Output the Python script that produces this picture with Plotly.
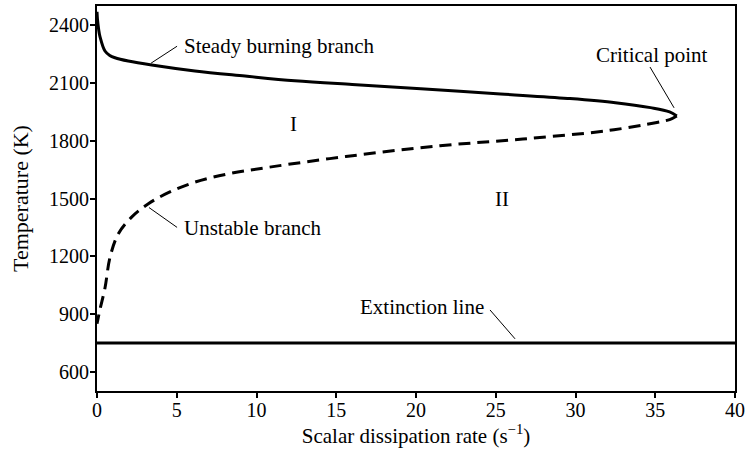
import plotly.graph_objects as go

# steady burning branch (upper, solid)
upper_x = [0, 0.03, 0.1, 0.19, 0.5, 0.8, 1.13, 1.96, 3.43, 6.14, 9.28, 12.4, 16, 20.3, 25.3, 29.5, 32.5, 34.7, 35.9, 36.35]
upper_t = [2470, 2430, 2380, 2340, 2266, 2243, 2231, 2214, 2193, 2162, 2136, 2112, 2092, 2070, 2043, 2020, 1998, 1972, 1950, 1929]

# unstable branch (lower, dashed)
lower_x = [36.35, 35.9, 35.1, 31.96, 26.7, 21.5, 15.6, 10.74, 8.23, 6.14, 4.47, 3.22, 2.17, 1.34, 0.82, 0.5, 0.19, 0]
lower_t = [1929, 1910, 1895, 1852, 1809, 1774, 1718, 1662, 1628, 1585, 1530, 1473, 1403, 1317, 1196, 1035, 925, 850]

# extinction line
ext_x = [0, 40]
ext_t = [750, 750]

x_ticks = [0, 5, 10, 15, 20, 25, 30, 35, 40]
y_ticks = [600, 900, 1200, 1500, 1800, 2100, 2400]

font = "Liberation Serif, Times New Roman, serif"

fig = go.Figure()
fig.add_trace(go.Scatter(x=upper_x, y=upper_t, mode="lines",
                         line=dict(color="black", width=3, shape="spline", smoothing=1)))
fig.add_trace(go.Scatter(x=lower_x, y=lower_t, mode="lines",
                         line=dict(color="black", width=3, dash="12px,7px", shape="spline", smoothing=1)))
fig.add_trace(go.Scatter(x=ext_x, y=ext_t, mode="lines",
                         line=dict(color="black", width=3)))

# leader lines for the labels
leaders = [
    (3.39, 2203, 5.02, 2291),
    (34.67, 2183, 36.18, 1971),
    (3.26, 1453, 5.02, 1350),
    (24.64, 921, 26.21, 771),
]
for x0, y0, x1, y1 in leaders:
    fig.add_shape(type="line", x0=x0, y0=y0, x1=x1, y1=y1,
                  line=dict(color="black", width=1))

labels = [
    ("Steady burning branch", 5.3, 2291, "left"),
    ("Critical point", 34.8, 2245, "center"),
    ("Unstable branch", 5.3, 1345, "left"),
    ("Extinction line", 20.4, 936, "center"),
    ("I", 12.35, 1888, "center"),
    ("II", 25.4, 1500, "center"),
]
for text, x, y, anchor in labels:
    fig.add_annotation(x=x, y=y, text=text, showarrow=False, xanchor=anchor,
                       yanchor="middle", font=dict(size=21, color="black", family=font))

fig.update_layout(
    width=749, height=457,
    margin=dict(l=97, r=14, t=4, b=66),
    paper_bgcolor="white", plot_bgcolor="white",
    showlegend=False,
    font=dict(family=font, size=20, color="black"),
)
fig.update_xaxes(range=[0, 40], tickvals=x_ticks, showgrid=False, zeroline=False,
                 showline=True, linecolor="black", linewidth=2, mirror=True,
                 ticks="outside", ticklen=5, tickwidth=2, tickcolor="black",
                 ticklabelstandoff=-5,
                 title=dict(text="Scalar dissipation rate (s<sup>\u22121</sup>)", standoff=2,
                            font=dict(size=21, color="black")))
fig.update_yaxes(range=[500, 2500], tickvals=y_ticks, showgrid=False, zeroline=False,
                 showline=True, linecolor="black", linewidth=2, mirror=True,
                 ticks="outside", ticklen=5, tickwidth=2, tickcolor="black",
                 ticklabelstandoff=-3,
                 title=dict(text="Temperature (K)", standoff=14, font=dict(size=22, color="black")))

fig.write_html("out.html", config={"displayModeBar": False},
               post_script="document.body.style.margin='0';")
